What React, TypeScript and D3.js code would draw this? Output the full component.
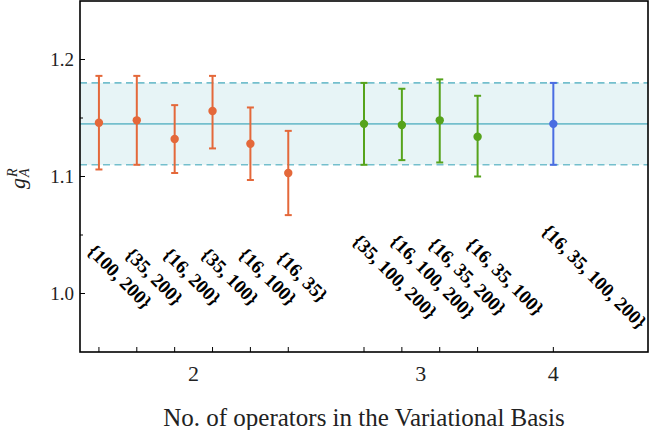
import React, { useEffect, useRef } from "react";
import * as d3 from "d3";

const basisLabels = [
  "{100, 200}",
  "{35, 200}",
  "{16, 200}",
  "{35, 100}",
  "{16, 100}",
  "{16, 35}",
  "{35, 100, 200}",
  "{16, 100, 200}",
  "{16, 35, 200}",
  "{16, 35, 100}",
  "{16, 35, 100, 200}",
];
const operatorCounts = [2, 2, 2, 2, 2, 2, 3, 3, 3, 3, 4];
const centralValues = [1.146, 1.148, 1.132, 1.156, 1.128, 1.103, 1.145, 1.144, 1.148, 1.134, 1.145];
const upperValues = [1.186, 1.186, 1.161, 1.186, 1.159, 1.139, 1.18, 1.175, 1.183, 1.169, 1.18];
const lowerValues = [1.106, 1.11, 1.103, 1.124, 1.097, 1.067, 1.11, 1.114, 1.112, 1.1, 1.11];

const bandMean = 1.145;
const bandLow = 1.11;
const bandHigh = 1.18;

const yMajorTicks = [1.0, 1.1, 1.2];
const yMinorTicks = [1.05, 1.15];
const labelRowValue = 1.0145;

const groupColors: Record<number, string> = { 2: "#e4683a", 3: "#56a31c", 4: "#4a6de2" };

const W = 671;
const H = 430;
const left = 80;
const right = 648;
const top = 1;
const bottom = 352;
const FONT = "Liberation Serif";

export default function App() {
  const ref = useRef<SVGSVGElement>(null);
  useEffect(() => {
    const svg = d3.select(ref.current);
    svg.selectAll("*").remove();

    const groups = Array.from(new Set(operatorCounts)).sort((a, b) => a - b);
    const slots = operatorCounts.map((c, i) => i + groups.indexOf(c));
    const maxSlot = d3.max(slots) as number;

    const x = d3.scaleLinear().domain([-0.5, maxSlot + 2.5]).range([left, right]);
    const y = d3.scaleLinear().domain([0.95, 1.25]).range([bottom, top]);

    svg.append("rect").attr("width", W).attr("height", H).attr("fill", "#fff");

    // band
    svg.append("rect")
      .attr("x", left).attr("width", right - left)
      .attr("y", y(bandHigh)).attr("height", y(bandLow) - y(bandHigh))
      .attr("fill", "#e7f4f6");
    const teal = "#74bfcd";
    [bandHigh, bandLow].forEach((v) => {
      svg.append("line")
        .attr("x1", left).attr("x2", right).attr("y1", y(v)).attr("y2", y(v))
        .attr("stroke", teal).attr("stroke-width", 1.6).attr("stroke-dasharray", "7,4.5");
    });
    svg.append("line")
      .attr("x1", left).attr("x2", right).attr("y1", y(bandMean)).attr("y2", y(bandMean))
      .attr("stroke", teal).attr("stroke-width", 1.6);

    // error bars
    const g = svg.append("g");
    centralValues.forEach((v, i) => {
      const cx = x(slots[i]);
      const col = groupColors[operatorCounts[i]];
      g.append("line").attr("x1", cx).attr("x2", cx)
        .attr("y1", y(upperValues[i])).attr("y2", y(lowerValues[i]))
        .attr("stroke", col).attr("stroke-width", 2);
      [upperValues[i], lowerValues[i]].forEach((e) => {
        g.append("line").attr("x1", cx - 3.5).attr("x2", cx + 3.5)
          .attr("y1", y(e)).attr("y2", y(e))
          .attr("stroke", col).attr("stroke-width", 2);
      });
      g.append("circle").attr("cx", cx).attr("cy", y(v)).attr("r", 4.2).attr("fill", col);
    });

    // rotated basis labels
    const fs = 19;
    basisLabels.forEach((lab, i) => {
      const t = svg.append("text")
        .attr("font-family", FONT).attr("font-size", fs).attr("font-weight", "bold")
        .attr("text-anchor", "middle").attr("dominant-baseline", "central")
        .attr("fill", "#000")
        .text(lab);
      const L = (t.node() as SVGTextElement).getComputedTextLength();
      const bw = (L + fs * 0.9) * Math.SQRT1_2;
      const cx = x(slots[i]) - 14 + bw / 2;
      const cy = y(labelRowValue);
      t.attr("transform", `translate(${cx},${cy}) rotate(45)`);
    });

    // y ticks
    yMajorTicks.forEach((v) => {
      svg.append("line").attr("x1", left).attr("x2", left + 5).attr("y1", y(v)).attr("y2", y(v))
        .attr("stroke", "#000").attr("stroke-width", 1);
      svg.append("text").attr("x", 74).attr("y", y(v) + 6.5)
        .attr("text-anchor", "end").attr("font-family", FONT).attr("font-size", 19)
        .attr("fill", "#222").text(d3.format(".1f")(v));
    });
    yMinorTicks.forEach((v) => {
      svg.append("line").attr("x1", left).attr("x2", left + 3).attr("y1", y(v)).attr("y2", y(v))
        .attr("stroke", "#000").attr("stroke-width", 1);
    });

    // x ticks at each point
    slots.forEach((s) => {
      svg.append("line").attr("x1", x(s)).attr("x2", x(s)).attr("y1", bottom).attr("y2", bottom - 5)
        .attr("stroke", "#000").attr("stroke-width", 1);
    });
    groups.forEach((gc) => {
      const gs = slots.filter((_, i) => operatorCounts[i] === gc);
      svg.append("text").attr("x", x(d3.mean(gs) as number)).attr("y", 381)
        .attr("text-anchor", "middle").attr("font-family", FONT).attr("font-size", 22)
        .attr("fill", "#222").text(String(gc));
    });

    // frame
    svg.append("rect").attr("x", left).attr("y", top).attr("width", right - left).attr("height", bottom - top)
      .attr("fill", "none").attr("stroke", "#000").attr("stroke-width", 1.6);

    // axis titles
    svg.append("text").attr("x", (left + right) / 2).attr("y", 426)
      .attr("text-anchor", "middle").attr("font-family", FONT).attr("font-size", 25)
      .attr("fill", "#222").text("No. of operators in the Variational Basis");

    const yl = svg.append("g").attr("transform", "translate(25,176) rotate(-90)");
    yl.append("text").attr("x", -13).attr("y", 0).attr("font-family", FONT).attr("font-style", "italic")
      .attr("font-size", 22).attr("fill", "#222").text("g");
    yl.append("text").attr("x", -1).attr("y", -8).attr("font-family", FONT).attr("font-style", "italic")
      .attr("font-size", 14).attr("fill", "#222").text("R");
    yl.append("text").attr("x", -1).attr("y", 4).attr("font-family", FONT).attr("font-style", "italic")
      .attr("font-size", 14).attr("fill", "#222").text("A");
  }, []);
  return (
    <svg
      ref={ref}
      width={W}
      height={H}
      style={{ position: "absolute", left: 0, top: 0, display: "block" }}
    />
  );
}
